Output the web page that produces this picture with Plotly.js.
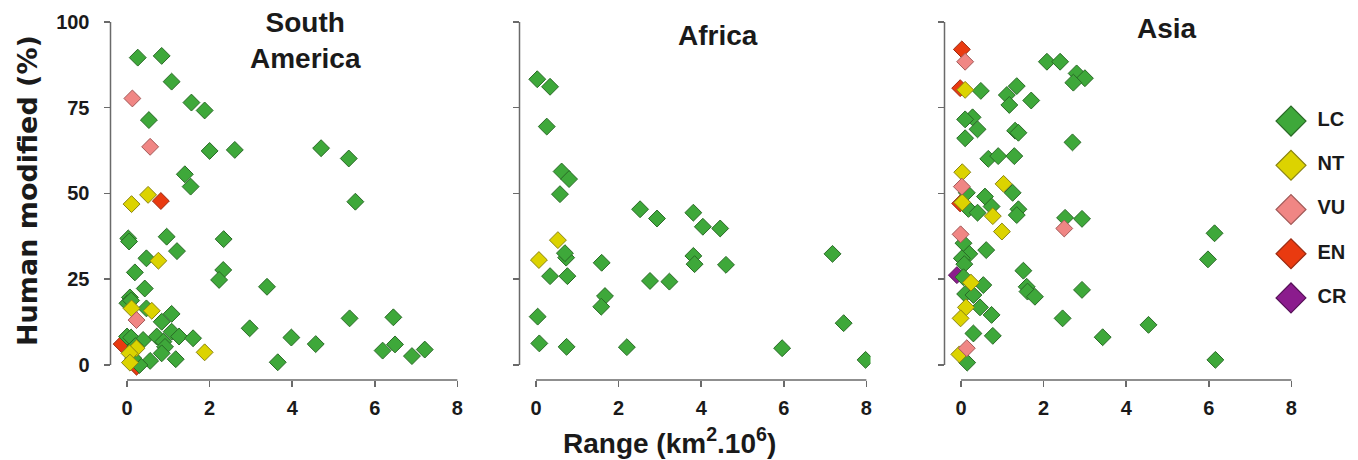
<!DOCTYPE html>
<html>
<head>
<meta charset="utf-8">
<script src="https://cdn.plot.ly/plotly-3.0.1.min.js"></script>
<style>html,body{margin:0;padding:0;background:#fff;}</style>
</head>
<body>
<div id="chart" style="width:1358px;height:460px;"></div>
<script>
// ---------------- DATA ----------------
const regions = ['South<br>America', 'Africa', 'Asia'];
const statusCategories = ['LC', 'NT', 'VU', 'EN', 'CR'];
const xTicks = [0, 2, 4, 6, 8];
const yTicks = [0, 25, 50, 75, 100];

// South America: range (km2 x 10^6), human modified (%), IUCN status
const saRange = [0.26,0.84,1.08,1.56,1.88,0.53,2.00,2.61,1.40,1.54,0.03,0.05,0.96,2.34,1.21,0.47,0.19,2.33,2.23,3.39,0.43,0.07,0.01,0.10,0.47,0.84,1.08,2.97,3.98,3.65,0.00,0.10,0.39,0.72,0.88,1.08,1.26,1.60,0.92,0.84,1.18,0.56,0.30,4.70,5.37,5.53,5.39,6.45,4.57,6.19,6.49,6.90,7.21,0.20,0.15,
  0.11,0.51,0.76,0.11,0.60,0.23,0.06,0.07,1.88,
  0.13,0.56,0.23,
  0.82,-0.13,0.23];
const saHuman = [89.6,90.1,82.6,76.5,74.2,71.4,62.4,62.7,55.6,52.0,36.9,36.0,37.4,36.7,33.2,31.1,27.0,27.7,24.8,22.8,22.3,19.7,18.0,18.8,16.5,12.6,14.9,10.7,8.0,0.8,8.3,8.0,7.3,8.3,6.8,9.7,8.3,7.8,5.3,3.4,1.7,1.2,0.0,63.2,60.2,47.6,13.6,13.9,6.1,4.2,6.0,2.6,4.5,5.5,2.0,
  46.9,49.6,30.4,16.5,15.8,4.9,3.4,0.7,3.7,
  77.7,63.6,13.1,
  47.8,6.1,-0.5];
const saStatus = ['LC','LC','LC','LC','LC','LC','LC','LC','LC','LC','LC','LC','LC','LC','LC','LC','LC','LC','LC','LC','LC','LC','LC','LC','LC','LC','LC','LC','LC','LC','LC','LC','LC','LC','LC','LC','LC','LC','LC','LC','LC','LC','LC','LC','LC','LC','LC','LC','LC','LC','LC','LC','LC','LC','LC',
  'NT','NT','NT','NT','NT','NT','NT','NT','NT',
  'VU','VU','VU',
  'EN','EN','EN'];

// Africa
const afRange = [0.03,0.34,0.26,0.62,0.80,0.58,2.52,2.93,3.81,4.04,4.46,0.73,0.70,0.34,0.76,1.59,3.81,3.84,4.60,2.76,3.23,1.67,1.58,0.04,0.08,0.74,2.20,7.18,7.45,5.96,7.98,
  0.53,0.07];
const afHuman = [83.3,81.1,69.5,56.4,54.2,49.8,45.4,42.7,44.4,40.3,39.8,31.3,32.6,25.9,25.9,29.8,31.8,29.4,29.2,24.5,24.3,20.1,17.0,14.1,6.3,5.3,5.2,32.4,12.2,4.9,1.5,
  36.4,30.6];
const afStatus = ['LC','LC','LC','LC','LC','LC','LC','LC','LC','LC','LC','LC','LC','LC','LC','LC','LC','LC','LC','LC','LC','LC','LC','LC','LC','LC','LC','LC','LC','LC','LC',
  'NT','NT'];

// Asia
const asRange = [2.08,2.40,2.80,3.00,2.72,0.48,1.35,1.11,1.17,1.70,0.28,0.10,0.40,0.10,1.31,1.39,2.70,0.66,0.90,1.29,1.25,0.14,0.58,0.74,0.18,0.40,1.39,1.35,2.52,2.93,0.06,0.61,0.20,0.02,0.08,0.06,0.54,1.51,1.59,1.61,1.79,2.93,0.10,0.30,0.46,0.74,2.46,0.30,0.77,3.43,0.15,6.14,5.98,4.54,6.16,
  0.10,0.03,1.03,0.03,0.77,0.99,0.24,0.12,-0.01,-0.04,
  0.10,0.02,2.50,-0.01,0.14,
  0.02,-0.02,-0.02,
  -0.10];
const asHuman = [88.4,88.4,85.0,83.6,82.3,79.9,81.3,78.7,75.8,77.1,72.2,71.6,68.7,66.1,68.3,67.7,64.9,60.1,60.9,60.9,50.2,50.2,49.1,46.2,45.5,44.4,45.4,43.7,42.9,42.6,35.5,33.5,32.4,31.1,29.4,25.6,23.3,27.5,22.8,21.4,19.9,21.9,20.7,20.4,16.8,14.6,13.6,9.2,8.5,8.1,0.7,38.4,30.8,11.7,1.5,
  80.2,56.2,52.8,47.4,43.4,38.9,24.0,16.8,13.6,3.1,
  88.4,52.0,39.8,38.1,4.9,
  92.0,80.7,47.1,
  26.2];
const asStatus = ['LC','LC','LC','LC','LC','LC','LC','LC','LC','LC','LC','LC','LC','LC','LC','LC','LC','LC','LC','LC','LC','LC','LC','LC','LC','LC','LC','LC','LC','LC','LC','LC','LC','LC','LC','LC','LC','LC','LC','LC','LC','LC','LC','LC','LC','LC','LC','LC','LC','LC','LC','LC','LC','LC','LC',
  'NT','NT','NT','NT','NT','NT','NT','NT','NT','NT',
  'VU','VU','VU','VU','VU',
  'EN','EN','EN',
  'CR'];

// ---------------- STYLE ----------------
const STYLE = {
  LC: {fill: '#3ea83a', line: '#2a6a27'},
  NT: {fill: '#dcd300', line: '#8a8412'},
  VU: {fill: '#f08684', line: '#a25a58'},
  EN: {fill: '#e93a10', line: '#9a2b12'},
  CR: {fill: '#8b1c8d', line: '#561158'}
};
const drawOrder = ['CR', 'EN', 'LC', 'NT', 'VU'];
const FONT = 'Liberation Sans, Arial, Helvetica, sans-serif';
const AXIS_COLOR = '#6a6a6a';
const W = 1358;
const domains = [[110.5 / W, 461.5 / W], [519.5 / W, 870.5 / W], [944.5 / W, 1295.5 / W]];
const xRange = [-0.4, 8.1];
const yRange = [-4.37, 102.9];

const panels = [
  {range: saRange, human: saHuman, status: saStatus},
  {range: afRange, human: afHuman, status: afStatus},
  {range: asRange, human: asHuman, status: asStatus}
];

const traces = [];
panels.forEach((p, i) => {
  const xa = i === 0 ? 'x' : 'x' + (i + 1);
  const ya = i === 0 ? 'y' : 'y' + (i + 1);
  drawOrder.forEach(st => {
    const xs = [], ys = [];
    p.status.forEach((s, k) => { if (s === st) { xs.push(p.range[k]); ys.push(p.human[k]); } });
    if (!xs.length) return;
    traces.push({
      type: 'scatter', mode: 'markers', x: xs, y: ys, xaxis: xa, yaxis: ya,
      showlegend: false, hoverinfo: 'skip',
      marker: {symbol: 'diamond', size: 13, color: STYLE[st].fill, line: {color: STYLE[st].line, width: 1}}
    });
  });
});

// legend drawn as its own small subplot
traces.push({
  type: 'scatter', mode: 'markers+text', xaxis: 'x4', yaxis: 'y4',
  x: statusCategories.map(() => 0), y: statusCategories,
  text: statusCategories, texttemplate: '\u00a0\u00a0%{text}', textposition: 'middle right',
  textfont: {family: FONT, size: 20, weight: 'bold', color: '#1a1a1a'},
  showlegend: false, hoverinfo: 'skip', cliponaxis: false,
  marker: {symbol: 'diamond', size: 23,
    color: statusCategories.map(s => STYLE[s].fill),
    line: {color: statusCategories.map(s => STYLE[s].line), width: 1.2}}
});

function xAxis(i) {
  return {
    domain: domains[i], range: xRange, anchor: i === 0 ? 'y' : 'y' + (i + 1),
    showline: false, showgrid: false, zeroline: false,
    ticks: 'outside', ticklen: 6, tickwidth: 1.5, tickcolor: AXIS_COLOR,
    tickmode: 'array', tickvals: xTicks, ticktext: xTicks.map(String),
    ticklabelstandoff: 4,
    tickfont: {family: FONT, size: 20, weight: 'bold', color: '#1a1a1a'}
  };
}
function yAxis(i) {
  return {
    domain: [0, 1], range: yRange, anchor: i === 0 ? 'x' : 'x' + (i + 1),
    showline: false, showgrid: false, zeroline: false,
    ticks: 'outside', ticklen: 6, tickwidth: 1.5, tickcolor: AXIS_COLOR,
    tickmode: 'array', tickvals: yTicks, ticktext: yTicks.map(String),
    showticklabels: i === 0, ticklabelstandoff: 10,
    tickfont: {family: FONT, size: 20, weight: 'bold', color: '#1a1a1a'}
  };
}

const shapes = [];
for (let i = 0; i < 3; i++) {
  const xr = i === 0 ? 'x' : 'x' + (i + 1);
  const yr = i === 0 ? 'y' : 'y' + (i + 1);
  shapes.push({type: 'line', xref: xr, yref: 'paper', x0: xTicks[0], x1: xTicks[xTicks.length - 1], y0: 0, y1: 0,
    line: {color: AXIS_COLOR, width: 1.5}});
  shapes.push({type: 'line', xref: 'paper', yref: yr, x0: domains[i][0], x1: domains[i][0], y0: yTicks[0], y1: yTicks[yTicks.length - 1],
    line: {color: AXIS_COLOR, width: 1.5}});
}

const titleFont = {family: FONT, size: 28, weight: 'bold', color: '#1a1a1a'};
const annotations = [
  {text: regions[0], xref: 'paper', yref: 'paper', x: 305 / W, y: 1.019, xanchor: 'center', yanchor: 'top', showarrow: false, font: titleFont},
  {text: regions[1], xref: 'paper', yref: 'paper', x: 718 / W, y: 0.984, xanchor: 'center', yanchor: 'top', showarrow: false, font: titleFont},
  {text: regions[2], xref: 'paper', yref: 'paper', x: 1167 / W, y: 1.003, xanchor: 'center', yanchor: 'top', showarrow: false, font: titleFont},
  {text: 'Range (km<sup>2</sup>.10<sup>6</sup>)', xref: 'paper', yref: 'paper', x: 669 / W, y: -0.111, xanchor: 'center', yanchor: 'top', showarrow: false, font: titleFont},
  {text: 'Human modified (%)', xref: 'paper', yref: 'paper', x: 28 / W, y: 0.5136, xanchor: 'center', yanchor: 'middle', textangle: -90, showarrow: false,
    font: {family: 'DejaVu Sans, ' + FONT, size: 27, weight: 'bold', color: '#1a1a1a'}}
];

const layout = {
  width: 1358, height: 460,
  margin: {l: 0, r: 0, t: 12, b: 80},
  paper_bgcolor: '#ffffff', plot_bgcolor: 'rgba(0,0,0,0)',
  showlegend: false,
  font: {family: FONT, color: '#1a1a1a'},
  xaxis: xAxis(0), yaxis: yAxis(0),
  xaxis2: xAxis(1), yaxis2: yAxis(1),
  xaxis3: xAxis(2), yaxis3: yAxis(2),
  xaxis4: {domain: [1276 / W, 1], range: [-1, 4.47], anchor: 'y4', visible: false, fixedrange: true},
  yaxis4: {domain: [0.163, 0.7636], type: 'category', categoryorder: 'array', categoryarray: statusCategories,
    range: [4.5, -0.5], anchor: 'x4', visible: false, fixedrange: true},
  shapes: shapes,
  annotations: annotations
};

Plotly.newPlot('chart', traces, layout, {displayModeBar: false, staticPlot: true});
</script>
</body>
</html>
